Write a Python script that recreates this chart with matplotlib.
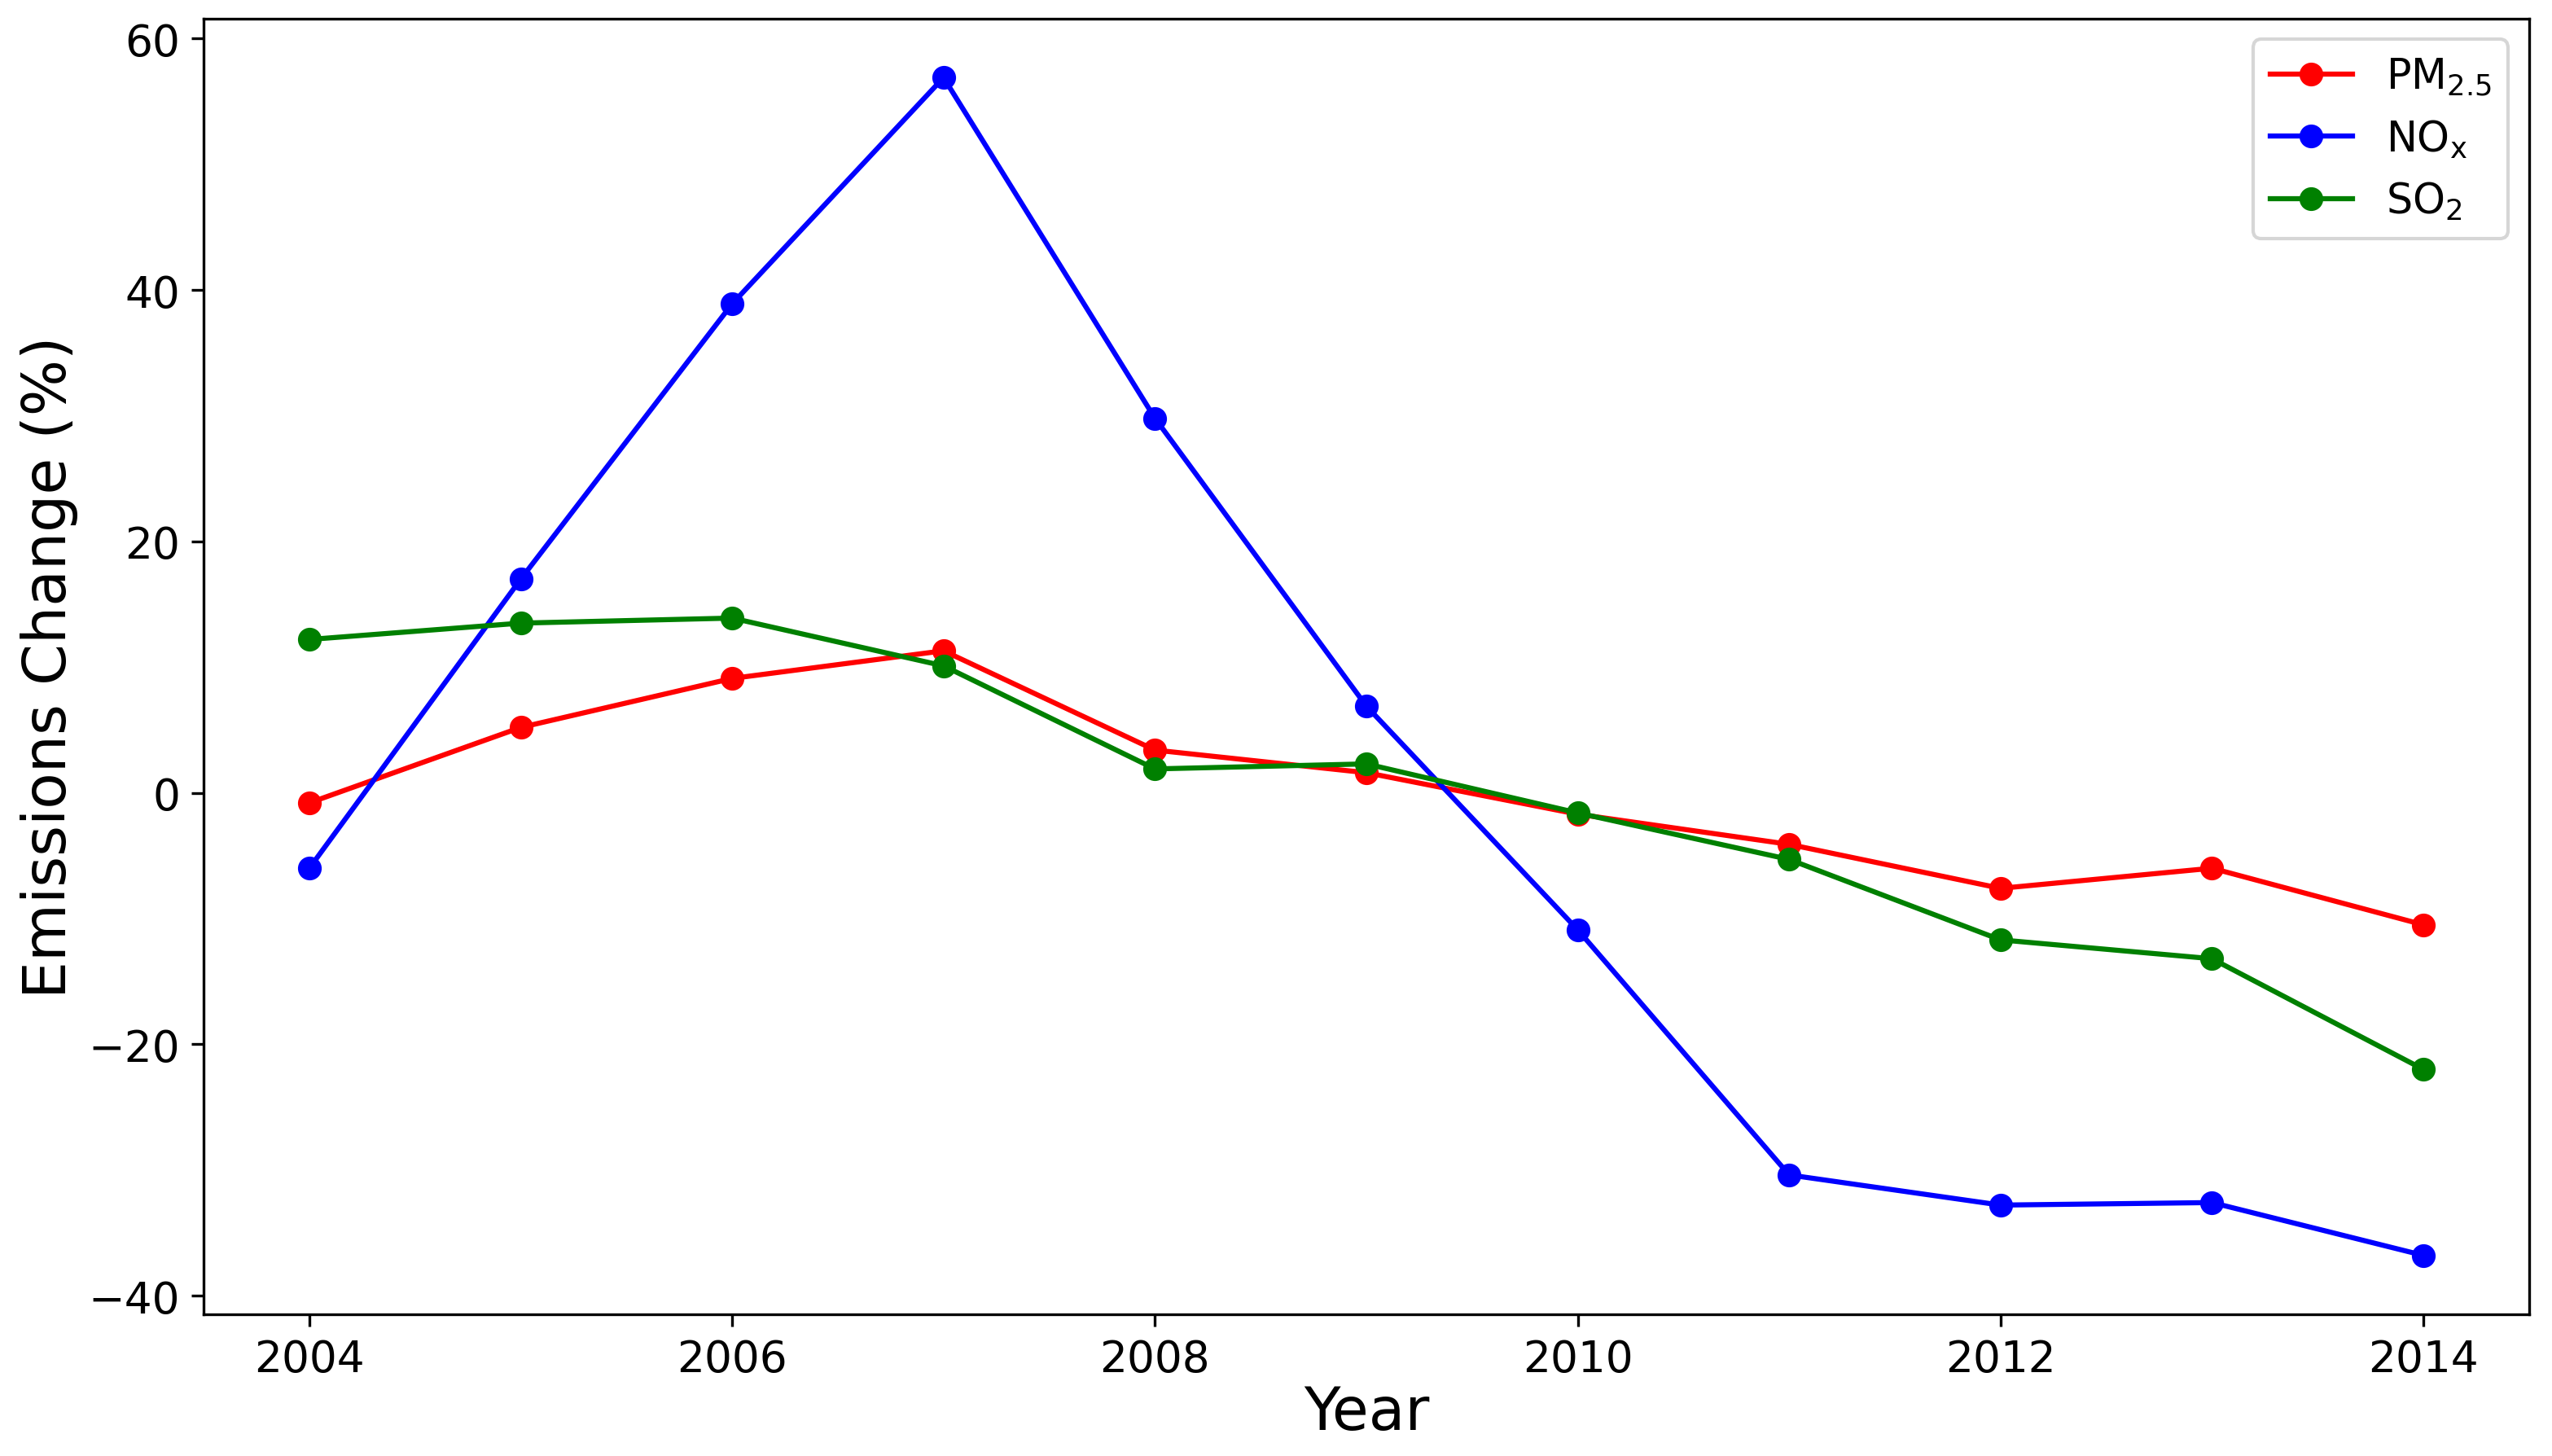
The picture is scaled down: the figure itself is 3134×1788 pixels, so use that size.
import matplotlib
matplotlib.use("Agg")
import matplotlib.pyplot as plt

years = [2004, 2005, 2006, 2007, 2008, 2009, 2010, 2011, 2012, 2013, 2014]
pm25 = [-0.8, 5.2, 9.1, 11.3, 3.4, 1.6, -1.7, -4.1, -7.6, -6.0, -10.5]
nox = [-6.0, 17.0, 38.9, 56.9, 29.8, 6.9, -10.9, -30.4, -32.8, -32.6, -36.8]
so2 = [12.2, 13.5, 13.9, 10.1, 1.9, 2.3, -1.6, -5.3, -11.7, -13.2, -22.0]
xticks = [2004, 2006, 2008, 2010, 2012, 2014]

fig = plt.figure(figsize=(3134/300, 1789/300), dpi=300)
ax = fig.add_axes([0.0798, 0.0973, 0.9112, 0.8893])
ax.plot(years, pm25, '-o', color='red', label=r'PM$_{2.5}$')
ax.plot(years, nox, '-o', color='blue', label=r'NO$_{\mathrm{x}}$')
ax.plot(years, so2, '-o', color='green', label=r'SO$_{2}$')
ax.set_xticks(xticks)
ax.tick_params(labelsize=12.8)
ax.set_xlabel('Year', fontsize=17.5, labelpad=1)
ax.set_ylabel('Emissions Change (%)', fontsize=17.5, labelpad=3)
ax.legend(loc='upper right', fontsize=12.2)
fig.savefig('out.png', dpi=300)
